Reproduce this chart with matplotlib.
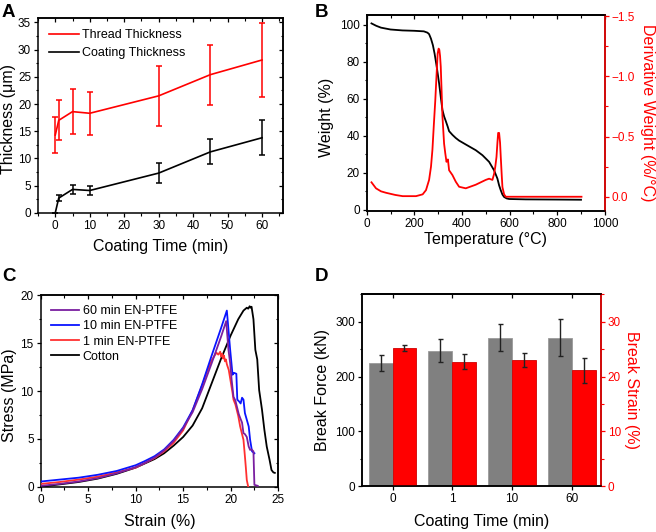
import numpy as np
import matplotlib
matplotlib.use("Agg")
import matplotlib.pyplot as plt
from matplotlib.lines import Line2D
from matplotlib.ticker import MultipleLocator, FixedLocator

plt.rcParams['font.family'] = ['Liberation Sans', 'DejaVu Sans']
plt.rcParams['font.size'] = 9
plt.rcParams['axes.linewidth'] = 1.1
plt.rcParams['xtick.major.width'] = 0.9
plt.rcParams['ytick.major.width'] = 0.9
plt.rcParams['xtick.minor.width'] = 0.8
plt.rcParams['ytick.minor.width'] = 0.8
plt.rcParams['xtick.major.size'] = 3
plt.rcParams['ytick.major.size'] = 3
plt.rcParams['xtick.minor.size'] = 1.8
plt.rcParams['ytick.minor.size'] = 1.8
plt.rcParams['xtick.major.pad'] = 2
plt.rcParams['ytick.major.pad'] = 2

# panel A: thickness vs coating time
time_a = [0, 1, 5, 10, 30, 45, 60]
thread_thick = [14.3, 17.0, 18.6, 18.3, 21.5, 25.4, 28.1]
thread_err = [3.3, 3.7, 4.1, 4.0, 5.5, 5.5, 6.8]
coat_thick = [0.0, 2.7, 4.3, 4.1, 7.3, 11.2, 13.8]
coat_err = [0.0, 0.5, 0.9, 0.9, 1.8, 2.3, 3.2]

# panel B: TGA
temp_w = [20, 40, 60, 100, 150, 200, 240, 255, 262, 270, 278, 285, 292, 298, 304, 311, 318, 325, 332,
          340, 346, 360, 374, 388, 416, 458, 486, 514, 535, 549, 556, 563, 570, 577, 588, 598, 668, 800, 900]
weight = [100.8, 99.5, 98.5, 97.5, 97.0, 96.8, 96.5, 95.8, 95.0, 92.5, 89.0, 84.5, 79.0, 73.8, 68.4, 61.0,
          54.0, 50.5, 48.0, 45.0, 42.5, 40.5, 38.8, 37.4, 35.3, 32.2, 29.5, 25.9, 21.3, 16.8, 13.2, 10.5,
          8.2, 6.9, 6.1, 5.8, 5.6, 5.5, 5.4]
temp_d = [20, 39, 60, 81, 120, 151, 207, 235, 249, 262, 270, 276, 282, 288, 293, 298, 302, 305, 308, 311,
          315, 318, 325, 330, 335, 338, 341, 346, 360, 374, 388, 416, 458, 500, 514, 528, 535, 540, 545,
          549, 552, 556, 560, 563, 567, 570, 577, 584, 600, 700, 800, 902]
deriv = [-0.12, -0.07, -0.045, -0.033, -0.015, -0.005, -0.005, -0.02, -0.055, -0.14, -0.25, -0.39, -0.6,
         -0.8, -1.0, -1.19, -1.23, -1.22, -1.17, -1.08, -0.85, -0.67, -0.44, -0.36, -0.29, -0.3, -0.31,
         -0.22, -0.18, -0.125, -0.083, -0.07, -0.1, -0.14, -0.15, -0.14, -0.19, -0.25, -0.33, -0.45, -0.53,
         -0.53, -0.45, -0.33, -0.18, -0.08, -0.02, 0.0, 0.0, 0.0, 0.0, 0.0]

# panel C: stress-strain
strain_60 = [0, 2, 4, 6, 8, 10, 11, 12, 13, 14, 15, 16, 17, 18, 19, 19.53, 19.77, 19.95, 20.1, 20.3,
             20.5, 20.65, 20.85, 21.0, 21.2, 21.35, 21.5, 21.7, 21.9, 22.05, 22.2, 22.4, 22.5, 22.85]
stress_60 = [0.1, 0.3, 0.55, 0.9, 1.4, 2.05, 2.5, 3.05, 3.8, 4.8, 6.1, 7.8, 10.2, 12.9, 15.7, 17.3, 14.3,
             12.9, 11.2, 9.4, 9.0, 8.4, 7.6, 7.2, 6.7, 5.6, 5.5, 5.2, 4.2, 3.85, 3.9, 3.7, 0.2, 0.1]
strain_10 = [0, 2, 4, 6, 8, 10, 11, 12, 13, 14, 15, 16, 17, 18, 19, 19.6, 19.95, 20.2, 20.35, 20.6,
             20.7, 20.9, 21.05, 21.2, 21.35, 21.5, 21.7, 21.9, 22.05, 22.25, 22.5]
stress_10 = [0.55, 0.75, 0.95, 1.25, 1.65, 2.25, 2.7, 3.2, 3.9, 4.9, 6.2, 8.0, 10.7, 13.7, 16.6, 18.4,
             14.3, 11.7, 11.9, 11.8, 9.1, 8.9, 8.7, 9.3, 9.1, 7.7, 7.0, 6.3, 4.9, 3.7, 3.5]
strain_1 = [0, 2, 4, 6, 8, 10, 11, 12, 13, 14, 15, 16, 17, 17.5, 18, 18.5, 18.7, 18.9, 19.0, 19.1, 19.2,
            19.3, 19.4, 19.5, 19.6, 19.8, 20.0, 20.2, 20.3, 20.5, 20.65, 20.8, 21.0, 21.2, 21.35, 21.5,
            21.6, 21.7, 21.85]
stress_1 = [0.3, 0.5, 0.75, 1.05, 1.5, 2.0, 2.5, 3.0, 3.7, 4.6, 5.9, 8.0, 10.6, 12.0, 13.2, 14.0, 13.8,
            14.1, 13.6, 13.9, 13.4, 13.7, 13.1, 13.3, 12.8, 12.2, 11.0, 9.8, 9.1, 8.6, 8.0, 7.4, 6.3, 5.5,
            4.9, 3.2, 2.0, 0.7, 0.0]
strain_cot = [0, 2, 4, 6, 8, 10, 12, 13, 14, 15, 16, 17, 18, 19, 20, 20.8, 21.35, 21.7, 21.85, 22.0,
              22.1, 22.2, 22.4, 22.6, 22.8, 23.0, 23.3, 23.55, 23.8, 24.1, 24.3, 24.5, 24.65]
stress_cot = [0.0, 0.25, 0.5, 0.85, 1.35, 2.0, 2.9, 3.5, 4.3, 5.2, 6.4, 8.2, 10.8, 13.4, 15.8, 17.5,
              18.4, 18.7, 18.6, 18.85, 18.7, 18.8, 17.5, 14.3, 13.3, 10.1, 8.05, 5.95, 4.2, 2.8, 1.75,
              1.5, 1.45]

# panel D: break force / strain
groups = ['0', '1', '10', '60']
force = [225, 247, 271, 271]
force_err = [15, 21, 25, 33]
bstrain = [25.2, 22.7, 23.0, 21.1]
bstrain_err = [0.6, 1.4, 1.3, 2.2]

RED = '#ff0000'
LBL = 11.5
TKS = 8.5

fig = plt.figure(figsize=(6.56, 5.32), dpi=100)


def mirror_top(ax, major, minor=None):
    # inward ticks on the top spine, no labels
    sec = ax.secondary_xaxis('top')
    sec.xaxis.set_major_locator(major)
    if minor is not None:
        sec.xaxis.set_minor_locator(minor)
    sec.tick_params(which='both', direction='in', labeltop=False)
    return sec


def mirror_right(ax, major, minor=None):
    sec = ax.secondary_yaxis('right')
    sec.yaxis.set_major_locator(major)
    if minor is not None:
        sec.yaxis.set_minor_locator(minor)
    sec.tick_params(which='both', direction='in', labelright=False)
    return sec


# ---------- A ----------
axA = fig.add_axes([0.058, 0.600, 0.373, 0.366])
axA.errorbar(time_a, thread_thick, yerr=thread_err, color=RED, lw=1.2, capsize=2.5, elinewidth=1.1,
             capthick=1.1)
axA.errorbar(time_a, coat_thick, yerr=coat_err, color='black', lw=1.2, capsize=2.5, elinewidth=1.1,
             capthick=1.1)
axA.set_xlim(-5, 66)
axA.set_ylim(0, 35.8)
axA.xaxis.set_major_locator(MultipleLocator(10))
axA.xaxis.set_minor_locator(MultipleLocator(5))
axA.yaxis.set_major_locator(MultipleLocator(5))
axA.yaxis.set_minor_locator(MultipleLocator(2.5))
axA.tick_params(which='both', direction='out', labelsize=TKS)
mirror_top(axA, MultipleLocator(10), MultipleLocator(5))
mirror_right(axA, MultipleLocator(5), MultipleLocator(2.5))
axA.set_xlabel('Coating Time (min)', fontsize=LBL, labelpad=5.5)
axA.set_ylabel('Thickness (μm)', fontsize=LBL, va='center')
axA.yaxis.set_label_coords(-0.122, 0.48)
handles_a = [Line2D([], [], color=RED, lw=1.2), Line2D([], [], color='black', lw=1.2)]
axA.legend(handles_a, ['Thread Thickness', 'Coating Thickness'], loc='upper left', frameon=False,
           fontsize=9, handlelength=2.4, handletextpad=0.25, labelspacing=0.45,
           borderaxespad=0.5, bbox_to_anchor=(0.0, 1.0))

# ---------- B ----------
axB = fig.add_axes([0.559, 0.603, 0.363, 0.369])
axB.plot(temp_w, weight, color='black', lw=1.3)
axB.set_xlim(0, 1000)
axB.set_ylim(-0.8, 105.4)
axB.xaxis.set_major_locator(MultipleLocator(200))
axB.xaxis.set_minor_locator(MultipleLocator(100))
axB.yaxis.set_major_locator(MultipleLocator(20))
axB.yaxis.set_minor_locator(MultipleLocator(10))
axB.tick_params(which='both', direction='out', labelsize=TKS)
mirror_top(axB, MultipleLocator(200), MultipleLocator(100))
axB.set_xlabel('Temperature (°C)', fontsize=LBL, labelpad=1)
axB.set_ylabel('Weight (%)', fontsize=LBL, va='center')
axB.yaxis.set_label_coords(-0.167, 0.48)
axB2 = axB.twinx()
axB2.plot(temp_d, deriv, color=RED, lw=1.3)
axB2.set_ylim(0.12, -1.51)
axB2.yaxis.set_major_locator(MultipleLocator(0.5))
axB2.yaxis.set_minor_locator(MultipleLocator(0.25))
axB2.yaxis.set_major_formatter(plt.FuncFormatter(lambda v, p: ('%.1f' % v).replace('-', '\u2212')))
axB2.tick_params(axis='y', which='both', direction='out', colors=RED, labelsize=TKS)
axB2.spines['right'].set_color(RED)
axB2.set_ylabel('Derivative Weight (%/°C)', fontsize=LBL, color=RED, rotation=270, va='center')
axB2.yaxis.set_label_coords(1.178, 0.5)

# ---------- C ----------
axC = fig.add_axes([0.062, 0.085, 0.362, 0.360])
axC.plot(strain_cot, stress_cot, color='black', lw=1.3, label='Cotton', zorder=2)
axC.plot(strain_1, stress_1, color='#ff3030', lw=1.3, label='1 min EN-PTFE', zorder=3)
axC.plot(strain_10, stress_10, color='#0a14ff', lw=1.3, label='10 min EN-PTFE', zorder=4)
axC.plot(strain_60, stress_60, color='#7a1fa0', lw=1.3, label='60 min EN-PTFE', zorder=5)
axC.set_xlim(0, 25)
axC.set_ylim(0, 20)
axC.xaxis.set_major_locator(MultipleLocator(5))
axC.xaxis.set_minor_locator(MultipleLocator(2.5))
axC.yaxis.set_major_locator(MultipleLocator(5))
axC.yaxis.set_minor_locator(MultipleLocator(2.5))
axC.tick_params(which='both', direction='out', labelsize=TKS)
mirror_top(axC, MultipleLocator(5), MultipleLocator(2.5))
mirror_right(axC, MultipleLocator(5), MultipleLocator(2.5))
axC.set_xlabel('Strain (%)', fontsize=LBL, labelpad=6)
axC.set_ylabel('Stress (MPa)', fontsize=LBL, va='center')
axC.yaxis.set_label_coords(-0.13, 0.48)
h, l = axC.get_legend_handles_labels()
axC.legend(h[::-1], l[::-1], loc='upper left', frameon=False, fontsize=9, handlelength=2.3,
           handletextpad=0.25, labelspacing=0.25, borderaxespad=0.4, bbox_to_anchor=(0.0, 1.0))

# ---------- D ----------
axD = fig.add_axes([0.552, 0.086, 0.364, 0.361])
xpos = np.arange(len(groups))
w = 0.4
axD.bar(xpos - w / 2, force, w, color='#808080', edgecolor='#9a9a9a', lw=0.6,
        yerr=force_err, capsize=1.8, error_kw=dict(elinewidth=1.0, capthick=1.0, ecolor='#222222'))
axD.set_xlim(-0.51, 3.49)
axD.set_ylim(0, 350)
axD.set_xticks(xpos)
axD.set_xticklabels(groups)
axD.yaxis.set_major_locator(MultipleLocator(100))
axD.yaxis.set_minor_locator(MultipleLocator(50))
axD.tick_params(which='both', direction='out', labelsize=TKS)
axD.tick_params(axis='x', which='minor', bottom=False)
mirror_top(axD, FixedLocator(xpos))
axD.set_xlabel('Coating Time (min)', fontsize=LBL, labelpad=6)
axD.set_ylabel('Break Force (kN)', fontsize=LBL, va='center')
axD.yaxis.set_label_coords(-0.167, 0.5)
axD2 = axD.twinx()
axD2.bar(xpos + w / 2, bstrain, w, color=RED, edgecolor='#d00000', lw=0.6,
         yerr=bstrain_err, capsize=1.8, error_kw=dict(elinewidth=1.0, capthick=1.0, ecolor='#222222'))
axD2.set_ylim(0, 35)
axD2.yaxis.set_major_locator(MultipleLocator(10))
axD2.yaxis.set_minor_locator(MultipleLocator(5))
axD2.tick_params(axis='y', which='both', direction='out', colors=RED, labelsize=TKS)
axD2.spines['right'].set_color(RED)
axD2.set_ylabel('Break Strain (%)', fontsize=LBL, color=RED, rotation=270, va='center')
axD2.yaxis.set_label_coords(1.13, 0.5)

for lab, x, y in [('A', 0.003, 0.992), ('B', 0.48, 0.992), ('C', 0.003, 0.497), ('D', 0.48, 0.497)]:
    fig.text(x, y, lab, fontsize=13.5, fontweight='bold', va='top', ha='left')

fig.savefig('out.png', dpi=100)
